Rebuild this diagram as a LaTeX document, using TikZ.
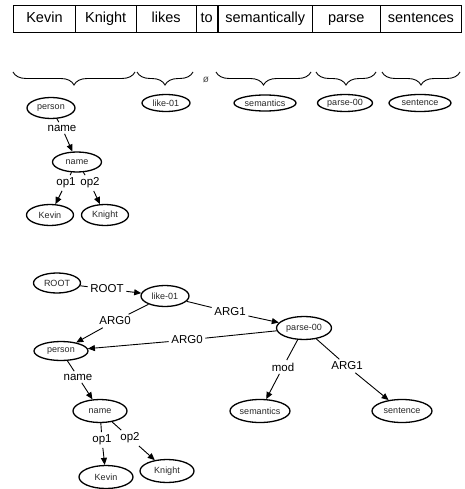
\documentclass[tikz,border=0pt]{standalone}
\usepackage{fontspec}
\setmainfont{Liberation Sans}
\usetikzlibrary{shapes.geometric,arrows.meta,decorations.pathreplacing}

\begin{document}
\begin{tikzpicture}[x=1pt,y=-1pt,
  cell/.style={draw,line width=0.9pt,minimum height=27pt,inner sep=0pt,
    anchor=north west,text height=10.5pt,text depth=3pt,
    font=\fontsize{14.5}{16}\selectfont},
  wbrace/.style={decorate,line width=0.9pt,
    decoration={brace,mirror,amplitude=13pt}},
  amr/.style={ellipse,draw,line width=1.3pt,inner sep=0pt,text=black!85,
    font=\fontsize{9}{10}\selectfont},
  lbl/.style={inner sep=2.5pt,font=\fontsize{11.5}{12}\selectfont},
  edge/.style={line width=0.9pt},
  arr/.style={line width=0.9pt,-{Triangle[length=7pt,width=6pt]}}]

\useasboundingbox (0,0) rectangle (464,489);

% sentence tokens
\node[cell,minimum width=62pt]   (t1) at (13,5)    {Kevin};
\node[cell,minimum width=60.5pt] (t2) at (75,5)    {Knight};
\node[cell,minimum width=60.5pt] (t3) at (135.5,5) {likes};
\node[cell,minimum width=20.5pt] (t4) at (196,5)   {to};
\node[cell,minimum width=93.5pt] (t5) at (218,5)   {semantically};
\node[cell,minimum width=68.5pt] (t6) at (311.5,5) {parse};
\node[cell,minimum width=81pt]   (t7) at (380,5)   {sentences};

% alignment braces
\draw[wbrace] (13,72) -- (135,72);
\draw[wbrace] (137,72) -- (193,72);
\draw[wbrace] (216,72) -- (311,72);
\draw[wbrace] (316,72) -- (376,72);
\draw[wbrace] (382,72) -- (460,72);
\node[font=\fontsize{10}{11}\selectfont,text=black!70] (nul) at (206,80) {ø};

% aligned concepts
\node[amr,minimum width=48pt,minimum height=21pt] (cperson) at (51,108) {person};
\node[amr,minimum width=48pt,minimum height=17pt] (clike)   at (166,103) {like-01};
\node[amr,minimum width=62pt,minimum height=16pt] (csem)    at (265,103) {semantics};
\node[amr,minimum width=55pt,minimum height=17pt] (cparse)  at (345,103) {parse-00};
\node[amr,minimum width=62pt,minimum height=17pt] (csent)   at (420,103) {sentence};

% name fragment
\node[amr,minimum width=49pt,minimum height=20pt] (cname)   at (77,162) {name};
\node[amr,minimum width=47pt,minimum height=21pt] (ckevin)  at (50,215) {Kevin};
\node[amr,minimum width=47pt,minimum height=21pt] (cknight) at (105,215) {Knight};

\node[lbl] (lcname) at (62,128) {name};
\node[lbl] (lcop1)  at (66,183) {op1};
\node[lbl] (lcop2)  at (90,183) {op2};

\draw[edge] (cperson) -- (lcname);
\draw[arr]  (lcname) -- (cname);
\draw[edge] (cname) -- (lcop1);
\draw[arr]  (lcop1) -- (ckevin);
\draw[edge] (cname) -- (lcop2);
\draw[arr]  (lcop2) -- (cknight);

% full graph
\node[amr,minimum width=47pt,minimum height=20pt] (groot)   at (57,283) {ROOT};
\node[amr,minimum width=48pt,minimum height=21pt] (glike)   at (165,296) {like-01};
\node[amr,minimum width=55pt,minimum height=23pt] (gparse)  at (304,328) {parse-00};
\node[amr,minimum width=54pt,minimum height=19pt] (gperson) at (61,351) {person};
\node[amr,minimum width=60pt,minimum height=23pt] (gsem)    at (260,411) {semantics};
\node[amr,minimum width=60pt,minimum height=23pt] (gsent)   at (402,411) {sentence};
\node[amr,minimum width=54pt,minimum height=23pt] (gname)   at (100,411) {name};
\node[amr,minimum width=54pt,minimum height=23pt] (gkevin)  at (106,477) {Kevin};
\node[amr,minimum width=54pt,minimum height=23pt] (gknight) at (167,471) {Knight};

\node[lbl] (lroot)  at (107,289) {ROOT};
\node[lbl] (larg0a) at (115,321) {ARG0};
\node[lbl] (larg1a) at (230,312) {ARG1};
\node[lbl] (larg0b) at (187,340) {ARG0};
\node[lbl] (lmod)   at (283,367) {mod};
\node[lbl] (larg1b) at (347,366) {ARG1};
\node[lbl] (lname)  at (78,377)  {name};
\node[lbl] (lop1)   at (102,440) {op1};
\node[lbl] (lop2)   at (130,438) {op2};

\draw[edge] (groot) -- (lroot);    \draw[arr] (lroot) -- (glike);
\draw[edge] (glike) -- (larg0a);   \draw[arr] (larg0a) -- (gperson);
\draw[edge] (glike) -- (larg1a);   \draw[arr] (larg1a) -- (gparse);
\draw[edge] (gparse) -- (larg0b);  \draw[arr] (larg0b) -- (gperson);
\draw[edge] (gparse) -- (lmod);    \draw[arr] (lmod) -- (gsem);
\draw[edge] (gparse) -- (larg1b);  \draw[arr] (larg1b) -- (gsent);
\draw[edge] (gperson) -- (lname);  \draw[arr] (lname) -- (gname);
\draw[edge] (gname) -- (lop1);     \draw[arr] (lop1) -- (gkevin);
\draw[edge] (gname) -- (lop2);     \draw[arr] (lop2) -- (gknight);
\end{tikzpicture}
\end{document}
